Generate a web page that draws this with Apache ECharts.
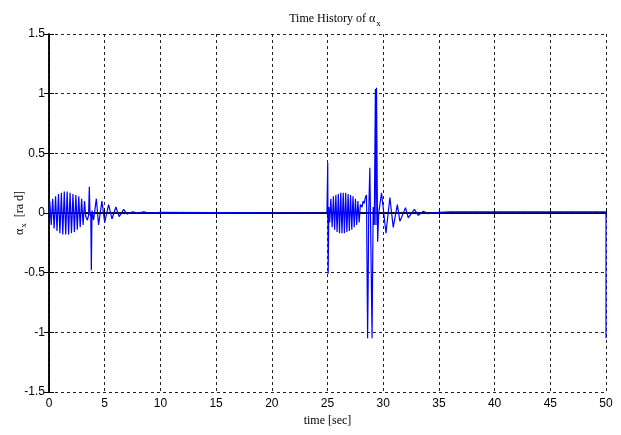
<!DOCTYPE html>
<html>
<head>
<meta charset="utf-8">
<script src="https://cdn.jsdelivr.net/npm/echarts@6/dist/echarts.min.js"></script>
<style>
html,body{margin:0;padding:0;background:#fff;}
#main{width:621px;height:435px;}
</style>
</head>
<body>
<div id="main"></div>
<script>
var chart = echarts.init(document.getElementById('main'));

// first burst (0 - 10 s)
var t1 = [0, 0.07, 0.2, 0.33, 0.46, 0.59, 0.72, 0.85, 0.98, 1.11, 1.24, 1.37, 1.5, 1.63, 1.76, 1.89,
  2.02, 2.15, 2.28, 2.41, 2.54, 2.67, 2.8, 2.93, 3.06, 3.19, 3.3, 3.45, 3.55, 3.62, 3.68, 3.75,
  3.8, 3.86, 4.0, 4.25, 4.45, 4.75, 5.0, 5.35, 5.65, 6.0, 6.3, 6.7, 7.0, 7.5, 8.0, 8.5, 9.0, 10];
var v1 = [0, 0.1, -0.1, 0.12, -0.13, 0.14, -0.15, 0.16, -0.17, 0.17, -0.18, 0.18, -0.18, 0.18, -0.18, 0.17,
  -0.17, 0.16, -0.16, 0.15, -0.14, 0.14, -0.12, 0.12, -0.1, 0.1, -0.03, -0.06, -0.02, 0.22, -0.02, 0.0,
  -0.48, 0.02, -0.06, 0.12, -0.1, 0.1, -0.08, 0.07, -0.05, 0.05, -0.03, 0.03, -0.01, 0.01, 0.0, 0.01, 0.0, 0.005];

// second burst (25 - 36 s)
var t2 = [24.95, 25.02, 25.06, 25.12, 25.2, 25.3, 25.42, 25.53, 25.64, 25.75, 25.86, 25.97, 26.08, 26.19,
  26.3, 26.41, 26.52, 26.63, 26.74, 26.85, 26.96, 27.07, 27.18, 27.29, 27.4, 27.51, 27.62, 27.73, 27.84,
  27.95, 28.1, 28.2, 28.3, 28.4, 28.5, 28.6, 28.65, 28.7, 28.8, 28.9, 29.0, 29.1, 29.2, 29.3, 29.35, 29.4,
  29.5, 29.6, 29.85, 30.25, 30.6, 30.9, 31.27, 31.5, 32.0, 32.25, 32.8, 33.15, 33.6, 34, 35, 36];
var v2 = [0, 0.42, -0.51, 0.05, -0.08, 0.12, -0.12, 0.14, -0.14, 0.15, -0.16, 0.16, -0.17, 0.17,
  -0.17, 0.17, -0.17, 0.17, -0.16, 0.16, -0.15, 0.15, -0.14, 0.14, -0.12, 0.12, -0.1, 0.1, -0.08,
  0.07, 0.05, 0.1, 0.08, 0.13, 0.15, -1.05, -0.6, 0.0, 0.38, -0.3, -1.05, 0.05, -0.1, 1.04, -0.1, 1.05,
  -0.24, 0.0, 0.17, -0.17, 0.13, -0.12, 0.07, -0.07, 0.045, -0.04, 0.03, -0.02, 0.015, -0.005, 0.005, 0.01];

// tail
var t3 = [50, 50];
var v3 = [0.01, -1.05];

var xTicks = [0, 5, 10, 15, 20, 25, 30, 35, 40, 45, 50];
var yTicks = [-1.5, -1, -0.5, 0, 0.5, 1, 1.5];

var lineData = [];
[[t1, v1], [t2, v2], [t3, v3]].forEach(function (s) {
  for (var i = 0; i < s[0].length; i++) {
    lineData.push([s[0][i], s[1][i]]);
  }
});

var tickFont = "'Liberation Sans Narrow', 'Liberation Sans', sans-serif";
var serifFont = "'Liberation Serif', 'DejaVu Serif', serif";
var gridLine = {show: true, lineStyle: {color: '#222', type: [3, 3], width: 1}};

var option = {
  animation: false,
  backgroundColor: '#fff',
  title: {
    text: 'Time History of α{sub|x}',
    left: 330,
    textAlign: 'center',
    top: 4,
    textStyle: {
      fontFamily: serifFont, fontSize: 12, fontWeight: 'normal', color: '#000',
      rich: {sub: {fontFamily: serifFont, fontSize: 9, padding: [10, 0, 0, 1], color: '#000'}}
    }
  },
  grid: {left: 49, right: 15, top: 34, bottom: 43, containLabel: false, outerBoundsMode: 'none'},
  xAxis: [{
    type: 'value', min: 0, max: 50, interval: 5,
    name: 'time [sec]', nameLocation: 'middle', nameGap: 23,
    nameTextStyle: {fontFamily: serifFont, fontSize: 12, color: '#000'},
    axisLine: {lineStyle: {color: '#000', width: 1.5}},
    axisTick: {inside: true, length: 5, lineStyle: {color: '#000'}},
    axisLabel: {fontFamily: tickFont, fontSize: 12, color: '#000', margin: 6,
      formatter: function (v) { return xTicks.indexOf(v) >= 0 ? String(v) : ''; }},
    splitLine: gridLine
  }, {
    type: 'value', min: 0, max: 50, interval: 5, position: 'top',
    axisLine: {lineStyle: {color: '#000', width: 1.5}},
    axisTick: {inside: true, length: 5, lineStyle: {color: '#000'}},
    axisLabel: {show: false}, splitLine: {show: false}
  }],
  yAxis: [{
    type: 'value', min: -1.5, max: 1.5, interval: 0.5,
    name: 'α{sub|x}  [ra d]', nameLocation: 'middle', nameGap: 21, nameRotate: 90,
    nameMoveOverlap: false,
    nameTextStyle: {fontFamily: serifFont, fontSize: 12, color: '#000',
      rich: {sub: {fontFamily: serifFont, fontSize: 9, color: '#000', padding: [8, 0, 0, 1]}}},
    axisLine: {lineStyle: {color: '#000', width: 1.5}},
    axisTick: {inside: true, length: 5, lineStyle: {color: '#000'}},
    axisLabel: {fontFamily: tickFont, fontSize: 12, color: '#000', margin: 4,
      formatter: function (v) { return yTicks.indexOf(v) >= 0 ? String(v) : ''; }},
    splitLine: gridLine
  }, {
    type: 'value', min: -1.5, max: 1.5, interval: 0.5, position: 'right',
    axisLine: {show: true, lineStyle: {color: '#000', width: 1.5}},
    axisTick: {show: true, inside: true, length: 5, lineStyle: {color: '#000'}},
    axisLabel: {show: false}, splitLine: {show: false}
  }],
  series: [{
    type: 'line',
    data: lineData,
    showSymbol: false,
    sampling: null,
    lineStyle: {color: '#0000ff', width: 1.2},
    itemStyle: {color: '#0000ff'},
    z: 5
  }]
};
chart.setOption(option);
</script>
</body>
</html>
